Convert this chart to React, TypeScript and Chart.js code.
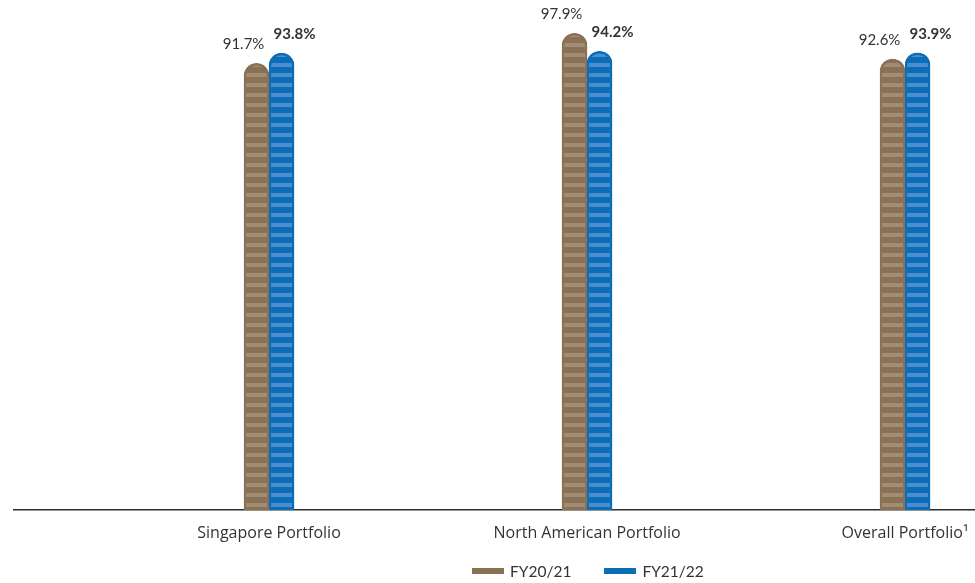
import React, { useEffect, useRef } from "react";
import { Chart, registerables } from "chart.js";

Chart.register(...registerables);

const categories = ["Singapore Portfolio", "North American Portfolio", "Overall Portfolio\u00B9"];
const seriesNames = ["FY20/21", "FY21/22"];
const fy2021 = [91.7, 97.9, 92.6];
const fy2122 = [93.8, 94.2, 93.9];

const BROWN = "#8a7055";
const BROWN_LIGHT = "#a28c73";
const BLUE = "#0a6db6";
const BLUE_LIGHT = "#4b8dcd";
const TEXT = "#333333";
const FONT = "Lato, 'Open Sans', sans-serif";
const AXIS_FONT = "'Open Sans', Lato, sans-serif";

function makePattern(base: string, light: string): CanvasPattern | string {
  const c = document.createElement("canvas");
  c.width = 4;
  c.height = 10;
  const g = c.getContext("2d");
  if (!g) return base;
  g.fillStyle = base;
  g.fillRect(0, 0, 4, 10);
  g.fillStyle = light;
  g.fillRect(0, 3, 4, 4);
  return g.createPattern(c, "repeat") || base;
}

const valueLabels = {
  id: "valueLabels",
  afterDatasetsDraw(chart: any) {
    const ctx = chart.ctx;
    ctx.save();
    ctx.textAlign = "center";
    ctx.textBaseline = "middle";
    ctx.fillStyle = TEXT;
    chart.data.datasets.forEach((ds: any, di: number) => {
      const meta = chart.getDatasetMeta(di);
      ctx.font = (di === 1 ? "bold " : "") + "15px " + FONT;
      meta.data.forEach((bar: any, i: number) => {
        const v = ds.data[i].y;
        const dx = di === 0 ? -13 : 13;
        ctx.fillText(v.toFixed(1) + "%", bar.x + dx, bar.y - 19);
      });
    });
    ctx.restore();
  },
};

export default function App() {
  const ref = useRef<HTMLCanvasElement>(null);

  useEffect(() => {
    if (!ref.current) return;
    const radius = { topLeft: 13, topRight: 13, bottomLeft: 0, bottomRight: 0 };
    const chart = new Chart(ref.current, {
      type: "bar",
      data: {
        datasets: [
          {
            label: seriesNames[0],
            data: fy2021.map((v, i) => ({ x: i + 1, y: v })),
            backgroundColor: makePattern(BROWN, BROWN_LIGHT) as any,
            borderColor: BROWN,
            borderWidth: 2.5,
            borderRadius: radius,
            borderSkipped: "start",
            barThickness: 25,
          },
          {
            label: seriesNames[1],
            data: fy2122.map((v, i) => ({ x: i + 1, y: v })),
            backgroundColor: makePattern(BLUE, BLUE_LIGHT) as any,
            borderColor: BLUE,
            borderWidth: 2.5,
            borderRadius: radius,
            borderSkipped: "start",
            barThickness: 25,
          },
        ],
      },
      options: {
        animation: false,
        responsive: false,
        maintainAspectRatio: false,
        layout: { padding: { left: 14, right: 0, top: 23, bottom: 0 } },
        plugins: {
          legend: { display: false },
          tooltip: { enabled: false },
        },
        scales: {
          x: {
            type: "linear",
            offset: false,
            min: 0.198,
            max: 3.22,
            grid: { display: false, drawTicks: false },
            border: { display: true, color: "#2b2b2b", width: 1.5 },
            afterBuildTicks: (s: any) => {
              s.ticks = categories.map((_, i) => ({ value: i + 1 }));
            },
            afterFit: (s: any) => {
              s.height = 73;
              s.paddingLeft = 0;
              s.paddingRight = 0;
            },
            ticks: {
              autoSkip: false,
              maxRotation: 0,
              padding: 14,
              color: TEXT,
              font: { family: AXIS_FONT, size: 16 },
              callback: (v: any) => categories[Math.round(Number(v)) - 1] ?? "",
            },
          },
          y: {
            display: false,
            min: 0,
            max: 100,
          },
        },
      },
      plugins: [valueLabels],
    });
    return () => chart.destroy();
  }, []);

  const legendItem = (name: string, color: string, ml: number) => (
    <div style={{ display: "flex", alignItems: "center", marginLeft: ml }}>
      <span style={{ display: "inline-block", width: 32, height: 6, background: color, marginRight: 6 }} />
      <span>{name}</span>
    </div>
  );

  return (
    <div style={{ position: "absolute", left: 0, top: 0, width: 975, height: 583, background: "#fff" }}>
      <canvas ref={ref} width={975} height={583} style={{ display: "block", width: 975, height: 583 }} />
      <div
        style={{
          position: "absolute",
          left: 472,
          top: 562,
          display: "flex",
          fontFamily: FONT,
          fontSize: 15.5,
          color: TEXT,
          lineHeight: "18px",
        }}
      >
        {legendItem(seriesNames[0], BROWN, 0)}
        {legendItem(seriesNames[1], BLUE, 33)}
      </div>
    </div>
  );
}
